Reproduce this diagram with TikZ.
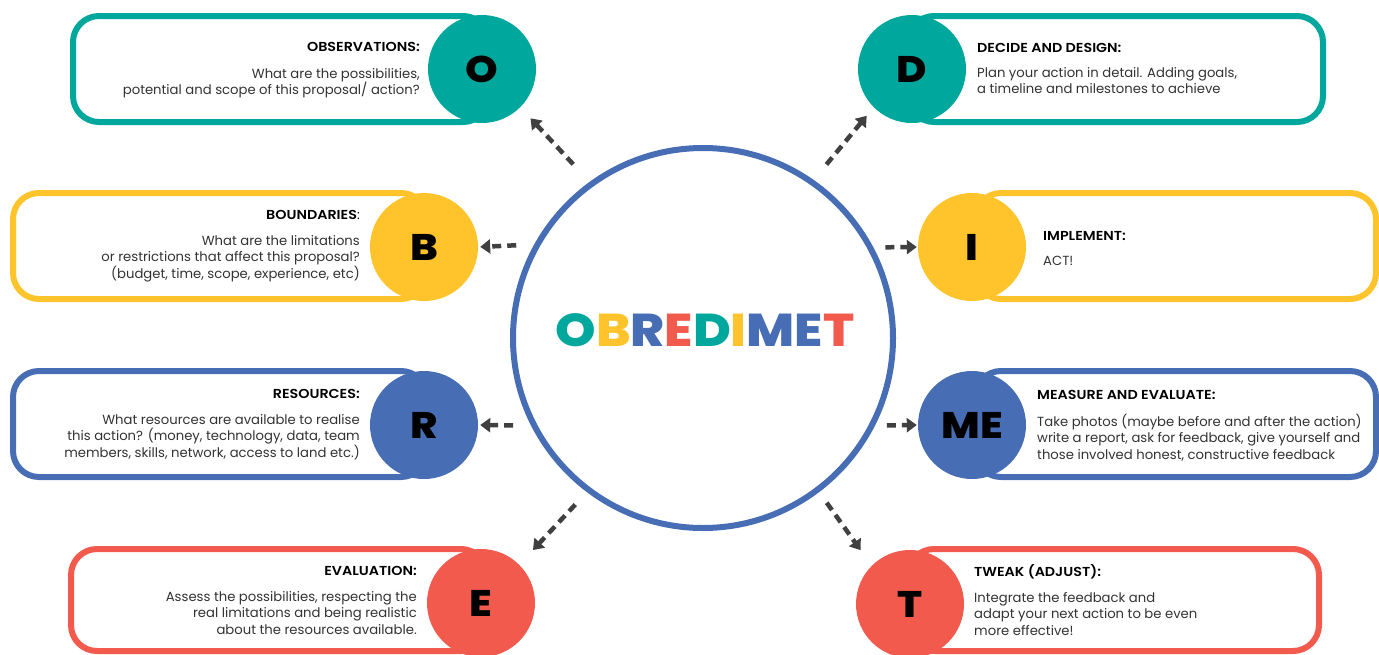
\documentclass[tikz,border=0pt]{standalone}
\usepackage{fontspec}
\setmainfont{Poppins}
\newfontfamily\heavy{Poppins ExtraBold}[FakeStretch=1.12]
\newfontfamily\ttlfont{Poppins SemiBold}[FakeStretch=1.1]
\usetikzlibrary{arrows.meta}
\definecolor{cteal}{HTML}{00A79D}
\definecolor{cyel}{HTML}{FFC42B}
\definecolor{cblue}{HTML}{476DB5}
\definecolor{cred}{HTML}{F15A4C}
\definecolor{carr}{HTML}{404040}
\definecolor{ctxt}{HTML}{333333}
\begin{document}
\begin{tikzpicture}[x=1pt,y=-1pt,
 box/.style={draw=#1, line width=6pt, fill=white, rounded corners=26pt, inner sep=0pt},
 letter/.style={circle, fill=#1, minimum size=108pt, inner sep=0pt, font=\fontsize{37}{37}\selectfont\heavy, text=black},
 ttl/.style={inner sep=0pt, font=\fontsize{13}{15}\selectfont\ttlfont, text=black},
 bdy/.style={inner sep=0pt, font=\fontsize{13.2}{16.4}\selectfont, text=ctxt},
 arr/.style={carr, line width=4.5pt, dash pattern=on 9pt off 6pt, -{Triangle[length=10pt,width=14pt]}},
]
\useasboundingbox (0,0) rectangle (1379,654);
% boxes
\node[box=cteal, minimum width=416pt, minimum height=106pt] (Obox) at (281,69) {};
\node[box=cteal, minimum width=415pt, minimum height=106pt] (Dbox) at (1115.5,69) {};
\node[box=cyel, minimum width=414pt, minimum height=106pt] (Bbox) at (220,246) {};
\node[box=cyel, minimum width=401pt, minimum height=106pt] (Ibox) at (1175.5,246) {};
\node[box=cblue, minimum width=414pt, minimum height=106pt] (Rbox) at (220,424) {};
\node[box=cblue, minimum width=401pt, minimum height=106pt] (MEbox) at (1175.5,424) {};
\node[box=cred, minimum width=416pt, minimum height=102pt] (Ebox) at (279,600) {};
\node[box=cred, minimum width=411pt, minimum height=102pt] (Tbox) at (1113.5,600) {};
% letter circles
\node[letter=cteal] (O) at (482,69) {O};
\node[letter=cteal] (D) at (912,69) {D};
\node[letter=cyel] (B) at (424,247) {B};
\node[letter=cyel] (I) at (972,247) {I};
\node[letter=cblue] (R) at (424,425) {R};
\node[letter=cblue] (ME) at (972,425) {ME};
\node[letter=cred] (E) at (481,603) {E};
\node[letter=cred] (T) at (910,604) {T};
% central circle
\node[circle, draw=cblue, line width=6pt, minimum size=380pt, inner sep=0pt] (mid) at (703,338) {};
\node[font=\fontsize{46}{46}\selectfont\heavy] (word) at (705,330) {\textcolor{cteal}{O}\textcolor{cyel}{B}\textcolor{cblue}{R}\textcolor{cred}{E}\textcolor{cteal}{D}\textcolor{cyel}{I}\textcolor{cblue}{M}\textcolor{cblue}{E}\textcolor{cred}{T}};
% arrows
\draw[arr, shorten <=24pt, shorten >=15pt] (mid.126) -- (O.-45);
\draw[arr, shorten <=20pt, shorten >=11pt] (mid.55) -- (D.225);
\draw[arr, shorten <=18pt, shorten >=2pt] (mid.151.4) -- (B.east);
\draw[arr, shorten <=12pt, shorten >=1pt] (mid.28.6) -- (I.west);
\draw[arr, shorten <=18pt, shorten >=2pt] (mid.207.2) -- (R.east);
\draw[arr, shorten <=12pt, shorten >=1pt] (mid.-27.2) -- (ME.west);
\draw[arr, shorten <=17pt, shorten >=20pt] (mid.233) -- (E.45);
\draw[arr, shorten <=13pt, shorten >=19pt] (mid.-53) -- (T.135);
% texts
\node[ttl, anchor=base east] (Ot) at (420,51) {OBSERVATIONS:};
\node[bdy, anchor=north east, align=right] (Ob) at (420,68) {What are the possibilities,\\potential and scope of this proposal/ action?};
\node[ttl, anchor=base west] (Dt) at (977,52) {DECIDE AND DESIGN:};
\node[bdy, anchor=north west, align=left] (Db) at (977,67) {Plan your action in detail. Adding goals,\\a timeline and milestones to achieve};
\node[ttl, anchor=base east] (Bt) at (360,219) {BOUNDARIES\normalfont{:}};
\node[bdy, anchor=north east, align=right] (Bb) at (360,235) {What are the limitations\\or restrictions that affect this proposal?\\(budget, time, scope, experience, etc)};
\node[ttl, anchor=base west] (It) at (1043,240) {IMPLEMENT:};
\node[bdy, anchor=north west, align=left] (Ib) at (1043,256) {ACT!};
\node[ttl, anchor=base east] (Rt) at (360,398) {RESOURCES:};
\node[bdy, anchor=north east, align=right] (Rb) at (360,414) {What resources are available to realise\\this action? (money, technology, data, team\\members, skills, network, access to land etc.)};
\node[ttl, anchor=base west] (MEt) at (1037,399) {MEASURE AND EVALUATE:};
\node[bdy, anchor=north west, align=left] (MEb) at (1037,414) {Take photos (maybe before and after the action)\\write a report, ask for feedback, give yourself and\\those involved honest, constructive feedback};
\node[ttl, anchor=base east] (Et) at (417,575) {EVALUATION:};
\node[bdy, anchor=north east, align=right] (Eb) at (417,591) {Assess the possibilities, respecting the\\real limitations and being realistic\\about the resources available.};
\node[ttl, anchor=base west] (Tt) at (974,576) {TWEAK (ADJUST):};
\node[bdy, anchor=north west, align=left] (Tb) at (974,592) {Integrate the feedback and\\adapt your next action to be even\\more effective!};
\end{tikzpicture}
\end{document}
